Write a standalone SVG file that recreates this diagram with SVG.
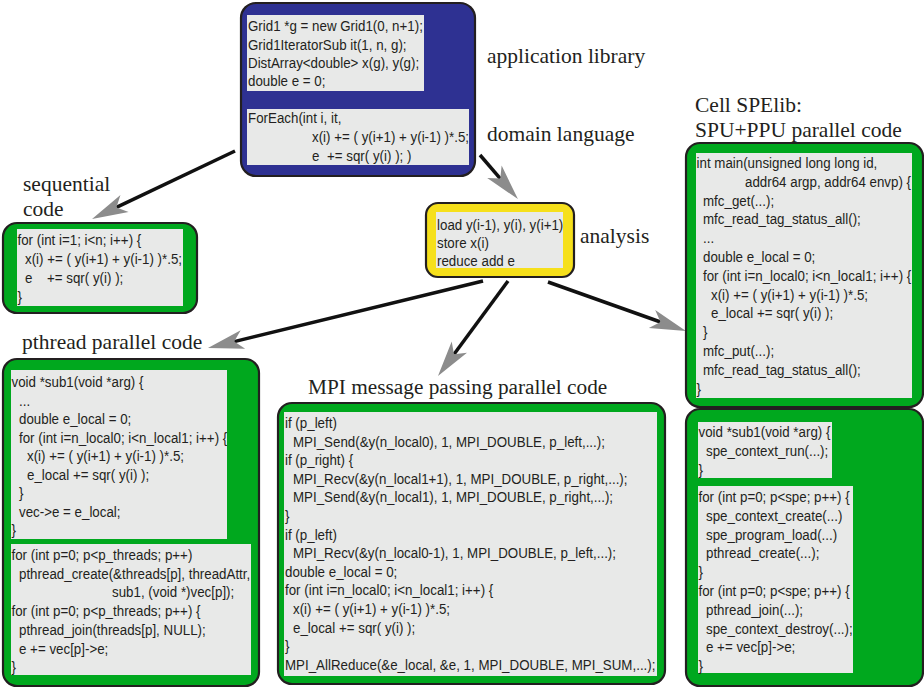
<svg xmlns="http://www.w3.org/2000/svg" width="924" height="688" viewBox="0 0 924 688">
<style>
.c{font-family:"Liberation Sans",Arial,sans-serif;font-size:15px;fill:#231f20}
.l{font-family:"Liberation Serif","Times New Roman",serif;font-size:21.5px;fill:#231f20}
.ob{stroke:#231f20;stroke-width:2.2}
.blue{fill:#2e3192}
.green{fill:#00a81e}
.yellow{fill:#f6e01b}
.gray{fill:#e8e9e8}
.arr{stroke:#111;stroke-width:3.5;fill:none;marker-end:url(#ah)}
</style>
<defs>
<marker id="ah" markerUnits="userSpaceOnUse" orient="auto" refX="0" refY="0" markerWidth="40" markerHeight="30" overflow="visible">
<path d="M27,0 L-9,-9.5 L0,0 L-9,9.5 Z" fill="#8c8c8c"/>
</marker>
</defs>
<rect width="924" height="688" fill="#fff"/>

<g id="labels">
<text class="l" x="487" y="63">application library</text>
<text class="l" x="487" y="141">domain language</text>
<text class="l" x="23" y="191">sequential</text>
<text class="l" x="23" y="216">code</text>
<text class="l" x="580" y="243">analysis</text>
<text class="l" x="695" y="112">Cell SPElib:</text>
<text class="l" x="695" y="137">SPU+PPU parallel code</text>
<text class="l" x="22" y="349">pthread parallel code</text>
<text class="l" x="308" y="394" style="font-size:21.3px">MPI message passing parallel code</text>
</g>

<g id="connectors">
<line class="arr" x1="235" y1="151" x2="116.4" y2="207.4"/>
<line class="arr" x1="480" y1="155" x2="500.3" y2="178.6"/>
<line class="arr" x1="483" y1="281" x2="234.2" y2="341.6"/>
<line class="arr" x1="508" y1="281" x2="454" y2="354.3"/>
<line class="arr" x1="548" y1="282" x2="660.5" y2="322"/>
</g>

<g id="application">
<rect class="ob blue" x="241" y="3" width="234" height="173" rx="15"/>
<rect class="gray" x="247" y="15" width="177" height="76"/>
<rect class="gray" x="247" y="109" width="222" height="56"/>
<text class="c" transform="translate(248,31) scale(.889,1)">Grid1 *g = new Grid1(0, n+1);</text>
<text class="c" transform="translate(248,50) scale(.889,1)">Grid1IteratorSub it(1, n, g);</text>
<text class="c" transform="translate(248,68) scale(.889,1)">DistArray&lt;double&gt; x(g), y(g);</text>
<text class="c" transform="translate(248,86) scale(.889,1)">double e = 0;</text>
<text class="c" transform="translate(248,123) scale(.889,1)">ForEach(int i, it,</text>
<text class="c" transform="translate(312,142) scale(.889,1)">x(i) += ( y(i+1) + y(i-1) )*.5;</text>
<text class="c" transform="translate(312,161) scale(.889,1)">e</text>
<text class="c" transform="translate(327,161) scale(.889,1)">+= sqr( y(i) ); )</text>
</g>

<g id="sequential">
<rect class="ob green" x="3" y="223" width="194" height="90" rx="14"/>
<rect class="gray" x="17" y="229" width="166" height="77"/>
<text class="c" transform="translate(17.5,245) scale(.889,1)">for (int i=1; i&lt;n; i++) {</text>
<text class="c" transform="translate(25,264) scale(.889,1)">x(i) += ( y(i+1) + y(i-1) )*.5;</text>
<text class="c" transform="translate(25,283) scale(.889,1)">e</text>
<text class="c" transform="translate(47,283) scale(.889,1)">+= sqr( y(i) );</text>
<text class="c" transform="translate(17.5,302) scale(.889,1)">}</text>
</g>

<g id="analysis">
<rect class="ob yellow" x="426" y="203" width="148" height="74" rx="12"/>
<rect class="gray" x="436" y="212" width="127" height="56"/>
<text class="c" transform="translate(437,230) scale(.889,1)">load y(i-1), y(i), y(i+1)</text>
<text class="c" transform="translate(437,248) scale(.889,1)">store x(i)</text>
<text class="c" transform="translate(437,266) scale(.889,1)">reduce add e</text>
</g>

<g id="cell">
<rect class="ob green" x="686" y="143" width="237" height="264" rx="14"/>
<rect class="gray" x="696" y="153" width="216" height="245"/>
<text class="c" transform="translate(696.5,168) scale(.889,1)">int main(unsigned long long id,</text>
<text class="c" transform="translate(745,186.8) scale(.889,1)">addr64 argp, addr64 envp) {</text>
<text class="c" transform="translate(703,205.6) scale(.889,1)">mfc_get(...);</text>
<text class="c" transform="translate(703,224.4) scale(.889,1)">mfc_read_tag_status_all();</text>
<text class="c" transform="translate(703,243.2) scale(.889,1)">...</text>
<text class="c" transform="translate(703,262) scale(.889,1)">double e_local = 0;</text>
<text class="c" transform="translate(703,280.8) scale(.889,1)">for (int i=n_local0; i&lt;n_local1; i++) {</text>
<text class="c" transform="translate(711,299.6) scale(.889,1)">x(i) += ( y(i+1) + y(i-1) )*.5;</text>
<text class="c" transform="translate(711,318.4) scale(.889,1)">e_local += sqr( y(i) );</text>
<text class="c" transform="translate(703,337.2) scale(.889,1)">}</text>
<text class="c" transform="translate(703,356) scale(.889,1)">mfc_put(...);</text>
<text class="c" transform="translate(703,374.8) scale(.889,1)">mfc_read_tag_status_all();</text>
<text class="c" transform="translate(696.5,393.6) scale(.889,1)">}</text>
</g>

<g id="ppu">
<rect class="ob green" x="686" y="409" width="237" height="277" rx="14"/>
<rect class="gray" x="698" y="422" width="134" height="56"/>
<rect class="gray" x="698" y="486" width="155" height="187"/>
<text class="c" transform="translate(698.5,437) scale(.889,1)">void *sub1(void *arg) {</text>
<text class="c" transform="translate(706,456) scale(.889,1)">spe_context_run(...);</text>
<text class="c" transform="translate(698.5,475) scale(.889,1)">}</text>
<text class="c" transform="translate(698.5,502) scale(.889,1)">for (int p=0; p&lt;spe; p++) {</text>
<text class="c" transform="translate(706,520.8) scale(.889,1)">spe_context_create(...)</text>
<text class="c" transform="translate(706,539.6) scale(.889,1)">spe_program_load(...)</text>
<text class="c" transform="translate(706,558.4) scale(.889,1)">pthread_create(...);</text>
<text class="c" transform="translate(698.5,577.2) scale(.889,1)">}</text>
<text class="c" transform="translate(698.5,596) scale(.889,1)">for (int p=0; p&lt;spe; p++) {</text>
<text class="c" transform="translate(706,614.8) scale(.889,1)">pthread_join(...);</text>
<text class="c" transform="translate(706,633.6) scale(.889,1)">spe_context_destroy(...);</text>
<text class="c" transform="translate(706,652.4) scale(.889,1)">e += vec[p]-&gt;e;</text>
<text class="c" transform="translate(698.5,671.2) scale(.889,1)">}</text>
</g>

<g id="pthread">
<rect class="ob green" x="3" y="359" width="256" height="327" rx="14"/>
<rect class="gray" x="11" y="370" width="216" height="169"/>
<rect class="gray" x="11" y="544" width="240" height="131"/>
<text class="c" transform="translate(11.5,387) scale(.889,1)">void *sub1(void *arg) {</text>
<text class="c" transform="translate(19,405.5) scale(.889,1)">...</text>
<text class="c" transform="translate(19,424) scale(.889,1)">double e_local = 0;</text>
<text class="c" transform="translate(19,442.5) scale(.889,1)">for (int i=n_local0; i&lt;n_local1; i++) {</text>
<text class="c" transform="translate(27,461) scale(.889,1)">x(i) += ( y(i+1) + y(i-1) )*.5;</text>
<text class="c" transform="translate(27,479.5) scale(.889,1)">e_local += sqr( y(i) );</text>
<text class="c" transform="translate(19,498) scale(.889,1)">}</text>
<text class="c" transform="translate(19,516.5) scale(.889,1)">vec-&gt;e = e_local;</text>
<text class="c" transform="translate(11.5,535) scale(.889,1)">}</text>
<text class="c" transform="translate(11.5,560) scale(.889,1)">for (int p=0; p&lt;p_threads; p++)</text>
<text class="c" transform="translate(19,578.7) scale(.889,1)">pthread_create(&amp;threads[p], threadAttr,</text>
<text class="c" transform="translate(112,597.4) scale(.889,1)">sub1, (void *)vec[p]);</text>
<text class="c" transform="translate(11.5,616.1) scale(.889,1)">for (int p=0; p&lt;p_threads; p++) {</text>
<text class="c" transform="translate(19,634.8) scale(.889,1)">pthread_join(threads[p], NULL);</text>
<text class="c" transform="translate(19,653.5) scale(.889,1)">e += vec[p]-&gt;e;</text>
<text class="c" transform="translate(11.5,672.2) scale(.889,1)">}</text>
</g>

<g id="mpi">
<rect class="ob green" x="278" y="403" width="387" height="281" rx="14"/>
<rect class="gray" x="284" y="412" width="373" height="264"/>
<text class="c" transform="translate(285,428) scale(.889,1)">if (p_left)</text>
<text class="c" transform="translate(293,446.6) scale(.889,1)">MPI_Send(&amp;y(n_local0), 1, MPI_DOUBLE, p_left,...);</text>
<text class="c" transform="translate(285,465.2) scale(.889,1)">if (p_right) {</text>
<text class="c" transform="translate(293,483.8) scale(.889,1)">MPI_Recv(&amp;y(n_local1+1), 1, MPI_DOUBLE, p_right,...);</text>
<text class="c" transform="translate(293,502.4) scale(.889,1)">MPI_Send(&amp;y(n_local1), 1, MPI_DOUBLE, p_right,...);</text>
<text class="c" transform="translate(285,521) scale(.889,1)">}</text>
<text class="c" transform="translate(285,539.6) scale(.889,1)">if (p_left)</text>
<text class="c" transform="translate(293,558.2) scale(.889,1)">MPI_Recv(&amp;y(n_local0-1), 1, MPI_DOUBLE, p_left,...);</text>
<text class="c" transform="translate(285,576.8) scale(.889,1)">double e_local = 0;</text>
<text class="c" transform="translate(285,595.4) scale(.889,1)">for (int i=n_local0; i&lt;n_local1; i++) {</text>
<text class="c" transform="translate(293,614) scale(.889,1)">x(i) += ( y(i+1) + y(i-1) )*.5;</text>
<text class="c" transform="translate(293,632.6) scale(.889,1)">e_local += sqr( y(i) );</text>
<text class="c" transform="translate(285,651.2) scale(.889,1)">}</text>
<text class="c" transform="translate(285,669.8) scale(.889,1)">MPI_AllReduce(&amp;e_local, &amp;e, 1, MPI_DOUBLE, MPI_SUM,...);</text>
</g>
</svg>
